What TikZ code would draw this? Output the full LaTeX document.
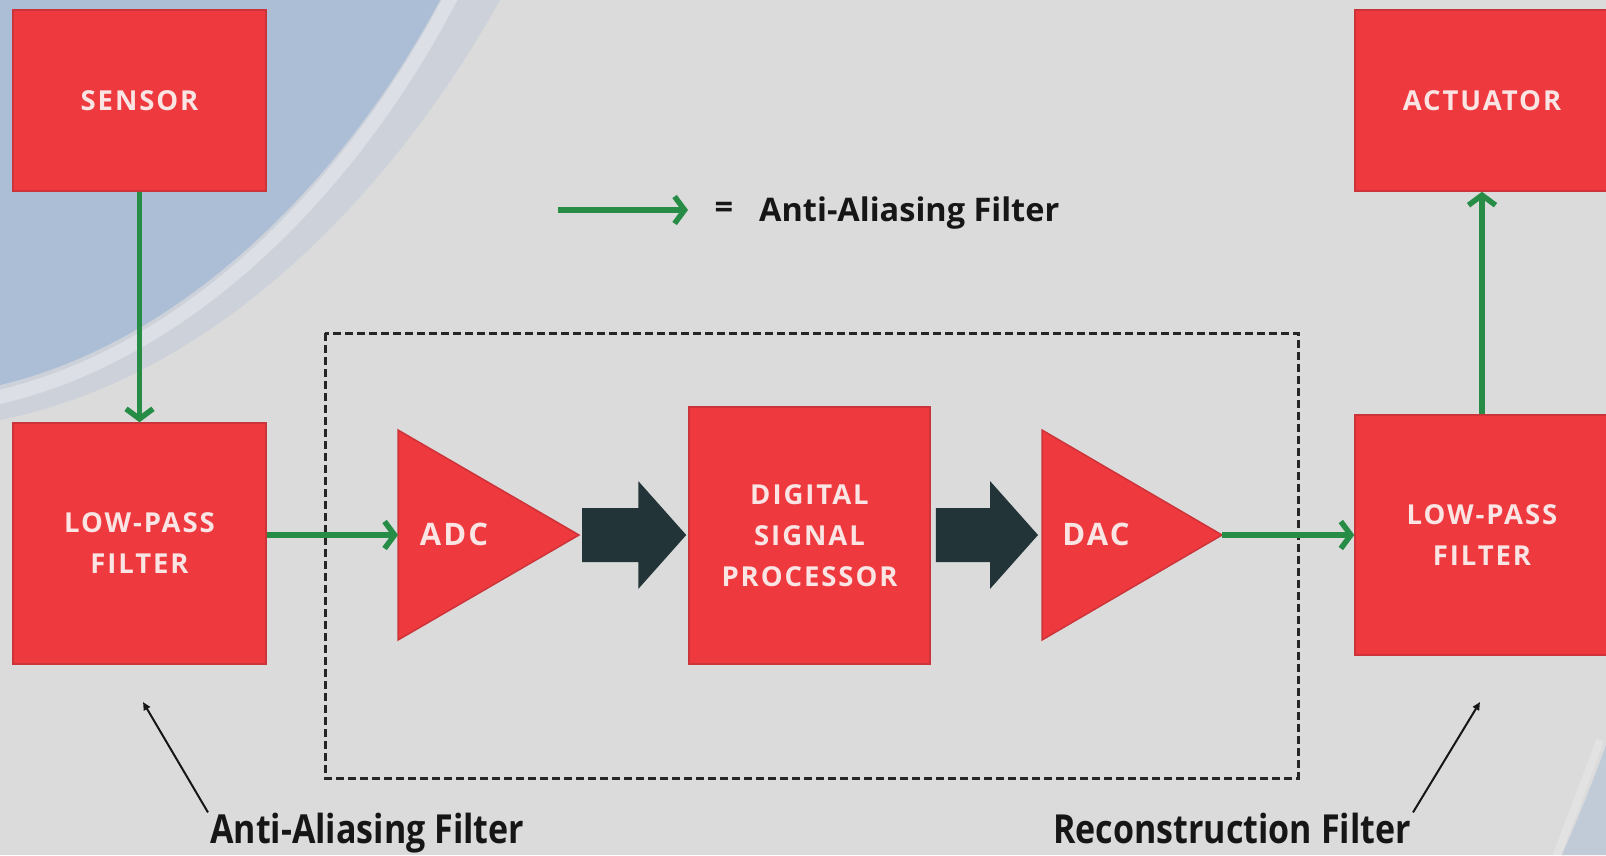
\documentclass[tikz,border=0pt]{standalone}
\usepackage{fontspec}
\setmainfont{Open Sans}
\newfontfamily\boxfamily{Open Sans}[LetterSpace=7]
\newfontfamily\condfamily{Open Sans}[FakeStretch=0.85]
\usetikzlibrary{arrows.meta,calc}
\definecolor{bggray}{RGB}{219,219,219}
\definecolor{bgblue}{RGB}{172,190,214}
\definecolor{boxred}{RGB}{238,57,62}
\definecolor{boxedge}{RGB}{205,52,58}
\definecolor{arrowgreen}{RGB}{38,140,70}
\definecolor{slate}{RGB}{34,52,56}
\definecolor{boxtext}{RGB}{250,228,228}
\definecolor{labeltext}{RGB}{22,22,22}
\newcommand\blockarr[2]{%
  \fill[slate] ($(#1)+(0,-27)$) -- ($(#2)+(-48,-27)$) -- ($(#2)+(-48,-54)$) -- (#2)
    -- ($(#2)+(-48,54)$) -- ($(#2)+(-48,27)$) -- ($(#1)+(0,27)$) -- cycle;}
\begin{document}
\begin{tikzpicture}[x=1pt,y=-1pt,
  redbox/.style={fill=boxred, draw=boxedge, line width=1.5pt, text=boxtext, align=center, inner sep=0pt,
    font=\boxfamily\bfseries\fontsize{27.5}{41}\selectfont},
  tritext/.style={text=boxtext, inner sep=0pt, font=\boxfamily\bfseries\fontsize{31}{41}\selectfont},
  tri/.style={fill=boxred, draw=boxedge, line width=1.5pt},
  greenarrow/.style={draw=arrowgreen, line width=5.5pt, -{Straight Barb[length=10pt,width=27pt]}},
  pointer/.style={draw=labeltext, line width=2pt, -{Triangle[length=8pt,width=7pt]}},
  dashbox/.style={draw=black!85, line width=3pt, dash pattern=on 8pt off 4pt},
  legendtext/.style={text=labeltext, inner sep=0pt, font=\bfseries\fontsize{32.5}{36}\selectfont},
  bottomlabel/.style={text=labeltext, inner sep=0pt, font=\condfamily\bfseries\fontsize{40}{44}\selectfont}]
\useasboundingbox (0,0) rectangle (1606,855);
\clip (0,0) rectangle (1606,855);
% background
\fill[bggray] (0,0) rectangle (1606,855);
\fill[bgblue!30!bggray] (0,0) -- (500,0) .. controls (400,180) and (225,375) .. (0,420) -- cycle;
\fill[bgblue] (0,0) -- (440,0) .. controls (350,170) and (190,340) .. (0,385) -- cycle;
\draw[white, opacity=0.3, line width=14pt] (452,-5) .. controls (362,170) and (200,352) .. (-5,398);
\fill[bgblue!55!bggray] (1606,745) .. controls (1590,790) and (1575,825) .. (1562,855) -- (1606,855) -- cycle;
\draw[white, opacity=0.2, line width=8pt] (1600,740) .. controls (1584,785) and (1569,822) .. (1555,860);
% dashed frame
\draw[dashbox] (325,333) rectangle (1298,778);
% boxes
\node[redbox, minimum width=253pt, minimum height=181pt] (sensor) at (139.5,100.5) {SENSOR};
\node[redbox, minimum width=253pt, minimum height=241pt] (lpf1) at (139.5,543.5) {LOW-PASS\\FILTER};
\node[redbox, minimum width=241pt, minimum height=257pt] (dsp) at (809.5,535.5) {DIGITAL\\SIGNAL\\PROCESSOR};
\node[redbox, minimum width=254pt, minimum height=240pt] (lpf2) at (1482,535) {LOW-PASS\\FILTER};
\node[redbox, minimum width=254pt, minimum height=181pt] (actuator) at (1482,100.5) {ACTUATOR};
% triangles
\coordinate (adctop) at (398,430);
\coordinate (adcbot) at (398,640);
\coordinate (adctip) at (579,535);
\fill[tri] (adctop) -- (adctip) -- (adcbot) -- cycle;
\node[tritext] (adc) at (454,534) {ADC};
\coordinate (dactop) at (1042,430);
\coordinate (dacbot) at (1042,640);
\coordinate (dactip) at (1222,535);
\fill[tri] (dactop) -- (dactip) -- (dacbot) -- cycle;
\node[tritext] (dac) at (1096,534) {DAC};
% block arrows
\coordinate (b1s) at ($(adctip)+(3,0)$);
\coordinate (b1e) at ($(dsp.west)+(-2,-0.5)$);
\blockarr{b1s}{b1e}
\coordinate (b2s) at ($(dsp.east)+(5,-0.5)$);
\coordinate (b2e) at ($(dactop)!0.5!(dacbot)+(-4,0)$);
\blockarr{b2s}{b2e}
% green connectors
\draw[greenarrow] (sensor.south) -- (lpf1.north);
\draw[greenarrow] (lpf1.east |- adctip) -- (adctop |- adctip);
\draw[greenarrow] (dactip) -- (lpf2.west |- dactip);
\draw[greenarrow] (lpf2.north) -- (actuator.south);
% legend
\coordinate (legA) at (558,210);
\coordinate (legB) at (688,210);
\draw[greenarrow] (legA) -- (legB);
\node[legendtext] (eq) at (724,210) {=};
\node[legendtext, anchor=base west] (legtext) at (759,221) {Anti-Aliasing Filter};
% bottom labels
\node[bottomlabel, anchor=base west] (aalbl) at (210,843) {Anti-Aliasing Filter};
\node[bottomlabel, anchor=base east] (reclbl) at (1411,843) {Reconstruction Filter};
\coordinate (aaptr) at (143,702);
\coordinate (recptr) at (1480,702);
\draw[pointer] ($(aalbl.north west)+(-2,0)$) -- (aaptr);
\draw[pointer] ($(reclbl.north east)+(2,0)$) -- (recptr);
\end{tikzpicture}
\end{document}
